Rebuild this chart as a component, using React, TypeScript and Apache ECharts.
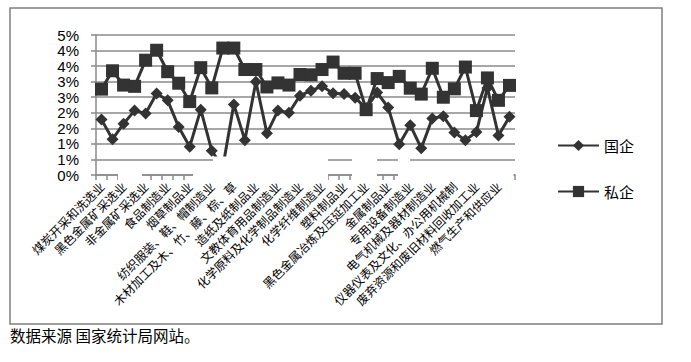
import React, { useEffect, useRef } from 'react';
import * as echarts from 'echarts';

const categories = [
  '煤炭开采和洗选业',
  '石油和天然气开采业',
  '黑色金属矿采选业',
  '有色金属矿采选业',
  '非金属矿采选业',
  '农副食品加工业',
  '食品制造业',
  '饮料制造业',
  '烟草制品业',
  '纺织业',
  '纺织服装、鞋、帽制造业',
  '皮革、毛皮、羽毛(绒)及其制品业',
  '木材加工及木、竹、藤、棕、草',
  '家具制造业',
  '造纸及纸制品业',
  '印刷业和记录媒介的复制',
  '文教体育用品制造业',
  '石油加工、炼焦及核燃料加工业',
  '化学原料及化学制品制造业',
  '医药制造业',
  '化学纤维制造业',
  '橡胶制品业',
  '塑料制品业',
  '非金属矿物制品业',
  '黑色金属冶炼及压延加工业',
  '有色金属冶炼及压延加工业',
  '金属制品业',
  '通用设备制造业',
  '专用设备制造业',
  '交通运输设备制造业',
  '电气机械及器材制造业',
  '通信设备、计算机及其他电子设备制造业',
  '仪器仪表及文化、办公用机械制',
  '工艺品及其他制造业',
  '废弃资源和废旧材料回收加工业',
  '电力、热力的生产和供应业',
  '燃气生产和供应业',
  '水的生产和供应业',
];

// 国企 (%)
const stateOwned = [
  1.78, 1.15, 1.65, 2.07, 1.98, 2.62, 2.4, 1.54, 0.91, 2.1,
  0.78, 0.25, 2.27, 1.12, 3.0, 1.34, 2.07, 2.0, 2.55, 2.71,
  2.85, 2.63, 2.6, 2.48, 2.15, 2.65, 2.17, 0.99, 1.6, 0.86,
  1.82, 1.89, 1.37, 1.12, 1.38, 2.8, 1.27, 1.87,
];

// 私企 (%)
const privateOwned = [
  2.76, 3.35, 2.89, 2.85, 3.69, 4.01, 3.32, 2.95, 2.36, 3.45,
  2.8, 4.08, 4.08, 3.39, 3.39, 2.83, 2.96, 2.89, 3.23, 3.22,
  3.39, 3.63, 3.27, 3.27, 2.1, 3.1, 2.97, 3.17, 2.79, 2.6,
  3.43, 2.5, 2.77, 3.47, 2.07, 3.12, 2.4, 2.88,
];

const seriesNames = ['国企', '私企'];
const sourceNote = '数据来源 国家统计局网站。';

const Y_MIN = 0;
const Y_MAX = 4.5;
const Y_STEP = 0.5;

export default function App() {
  const ref = useRef<HTMLDivElement>(null);

  useEffect(() => {
    if (!ref.current) return;
    const chart = echarts.init(ref.current, null, { renderer: 'svg' });
    const gray = '#8a8a8a';
    const dark = '#333333';
    const cjk = '"Noto Sans CJK SC", sans-serif';

    const hideRect = (x1: number, x2: number, y1: number, y2: number) => ({
      type: 'rect',
      z: 50,
      silent: true,
      shape: { x: x1, y: y1, width: x2 - x1, height: y2 - y1 },
      style: { fill: '#ffffff' },
    });

    chart.setOption({
      animation: false,
      backgroundColor: '#ffffff',
      grid: { left: 96, top: 35, width: 419, height: 140, containLabel: false },
      legend: {
        orient: 'vertical',
        left: 552,
        top: 133,
        itemWidth: 41,
        itemHeight: 14,
        itemGap: 31,
        textStyle: { fontSize: 15, color: '#000', fontFamily: cjk },
        data: seriesNames,
      },
      xAxis: {
        type: 'category',
        data: categories,
        boundaryGap: true,
        axisLine: { lineStyle: { color: gray, width: 1.5 } },
        axisTick: { show: true, interval: 0, length: 5, lineStyle: { color: gray, width: 1.5 } },
        axisLabel: {
          interval: 1,
          rotate: 45,
          fontSize: 12,
          color: '#000',
          fontFamily: cjk,
          margin: 9,
        },
        splitLine: { show: false },
      },
      yAxis: {
        type: 'value',
        min: Y_MIN,
        max: Y_MAX,
        interval: Y_STEP,
        axisLine: { show: true, lineStyle: { color: gray, width: 1.5 } },
        axisTick: { show: true, length: 5, lineStyle: { color: gray, width: 1.5 } },
        axisLabel: {
          fontSize: 15,
          color: '#000',
          fontFamily: '"Liberation Sans", Arial, sans-serif',
          margin: 17,
          formatter: (v: number) => `${Math.round(v)}%`,
        },
        splitLine: { show: true, lineStyle: { color: gray, width: 1.5 } },
      },
      series: [
        {
          name: seriesNames[0],
          type: 'line',
          data: stateOwned,
          symbol: 'diamond',
          symbolSize: 12,
          showAllSymbol: true,
          lineStyle: { color: dark, width: 3 },
          itemStyle: { color: dark },
          z: 3,
        },
        {
          name: seriesNames[1],
          type: 'line',
          data: privateOwned,
          symbol: 'rect',
          symbolSize: 13,
          showAllSymbol: true,
          lineStyle: { color: dark, width: 3 },
          itemStyle: { color: dark },
          z: 2,
        },
      ],
      graphic: [
        {
          type: 'rect',
          silent: true,
          z: 60,
          shape: { x: 10, y: 8, width: 652, height: 316 },
          style: { fill: 'none', stroke: '#7f7f7f', lineWidth: 1.5 },
        },
        hideRect(118, 142, 173.5, 181.5),
        hideRect(193, 213, 173.5, 181.5),
        hideRect(213, 328, 156.5, 181.5),
        hideRect(352, 377, 156.5, 181.5),
        hideRect(398, 410, 156.5, 181.5),
        hideRect(410, 513.5, 173.5, 181.5),
        {
          type: 'text',
          left: 10,
          top: 327,
          z: 60,
          style: { text: sourceNote, fontSize: 15.5, fill: '#000', fontFamily: cjk },
        },
      ],
    });
    return () => chart.dispose();
  }, []);

  return (
    <div
      ref={ref}
      style={{ position: 'fixed', left: 0, top: 0, width: 691, height: 362, background: '#fff' }}
    />
  );
}
